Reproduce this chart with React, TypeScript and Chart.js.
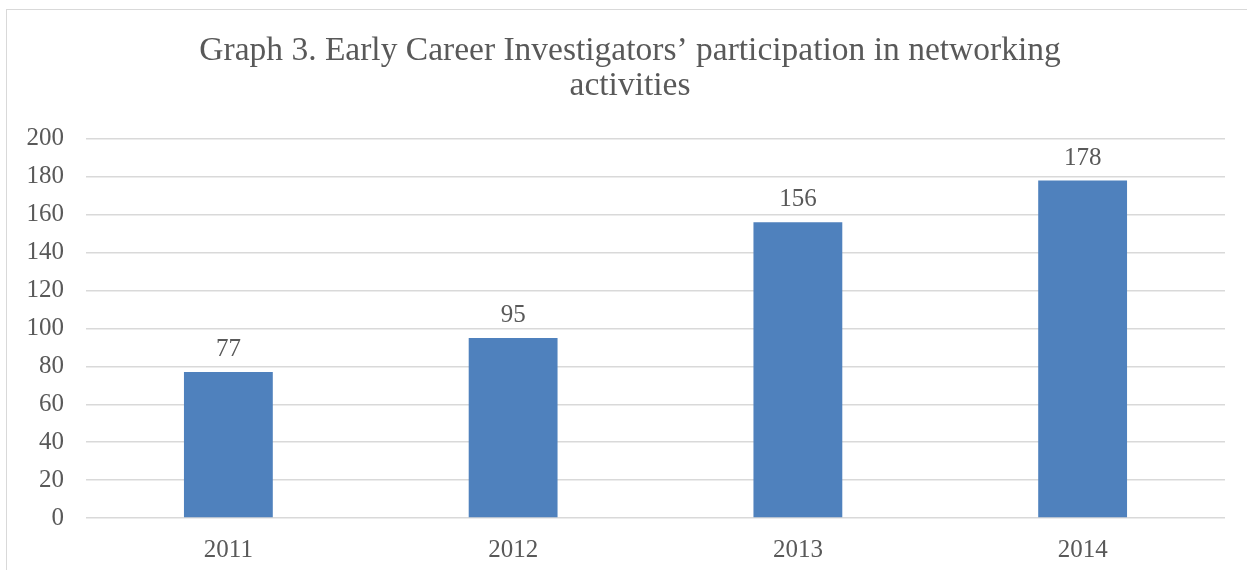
import React, { useEffect, useRef } from "react";
import { Chart, registerables } from "chart.js";

Chart.register(...registerables);

const categories = ["2011", "2012", "2013", "2014"];
const values = [77, 95, 156, 178];
const titleLines = ["Graph 3. Early Career Investigators’ participation in networking", "activities"];
const yMin = 0;
const yMax = 200;
const yStep = 20;

const FONT = "'Liberation Serif', serif";
const TEXT = "#595959";
const GRID = "#D9D9D9";
const BAR = "#4F81BD";

const valueLabels = {
  id: "valueLabels",
  afterDatasetsDraw(chart: any) {
    const ctx = chart.ctx;
    const meta = chart.getDatasetMeta(0);
    ctx.save();
    ctx.fillStyle = TEXT;
    ctx.font = `25px ${FONT}`;
    ctx.textAlign = "center";
    ctx.textBaseline = "bottom";
    meta.data.forEach((el: any, i: number) => {
      ctx.fillText(String(chart.data.datasets[0].data[i]), el.x, el.y - 10);
    });
    ctx.restore();
  },
};

// Centre the title over the area right of the y labels, as in the reference.
const titleShift = {
  id: "titleShift",
  afterLayout(chart: any) {
    const tb = chart.titleBlock;
    if (tb) tb.left += 35;
  },
};

export default function App() {
  const ref = useRef<HTMLCanvasElement | null>(null);
  useEffect(() => {
    if (!ref.current) return;
    const chart = new Chart(ref.current, {
      type: "bar",
      data: {
        labels: categories,
        datasets: [
          {
            data: values,
            backgroundColor: BAR,
            categoryPercentage: 1,
            barPercentage: 0.312,
          },
        ],
      },
      options: {
        animation: false,
        responsive: false,
        layout: { padding: { left: 0, right: 22, top: 14, bottom: 0 } },
        plugins: {
          legend: { display: false },
          tooltip: { enabled: false },
          title: {
            display: true,
            text: titleLines,
            color: TEXT,
            font: { family: FONT, size: 33.5, weight: "normal", lineHeight: 1.02 },
            padding: { top: 20.5, bottom: 36 },
          },
        },
        scales: {
          x: {
            grid: { display: false },
            border: { display: false },
            ticks: { color: TEXT, font: { family: FONT, size: 25 }, padding: 9 },
            afterFit(scale: any) {
              scale.height = 52;
            },
          },
          y: {
            min: yMin,
            max: yMax,
            grid: { color: GRID, lineWidth: 1.5, drawTicks: false },
            border: { display: false },
            ticks: {
              stepSize: yStep,
              color: TEXT,
              font: { family: FONT, size: 25 },
              padding: 22,
            },
            afterFit(scale: any) {
              scale.width = 86;
            },
          },
        },
      },
      plugins: [valueLabels, titleShift],
    });
    return () => chart.destroy();
  }, []);
  return (
    <div style={{ position: "fixed", left: 0, top: 0, width: 1247, height: 570, background: "#fff", overflow: "hidden" }}>
      <div
        style={{
          position: "absolute",
          left: 6,
          top: 9,
          width: 1300,
          height: 700,
          border: `1.5px solid ${GRID}`,
          boxSizing: "border-box",
        }}
      />
      <canvas ref={ref} width={1247} height={570} style={{ position: "absolute", left: 0, top: 0 }} />
    </div>
  );
}
